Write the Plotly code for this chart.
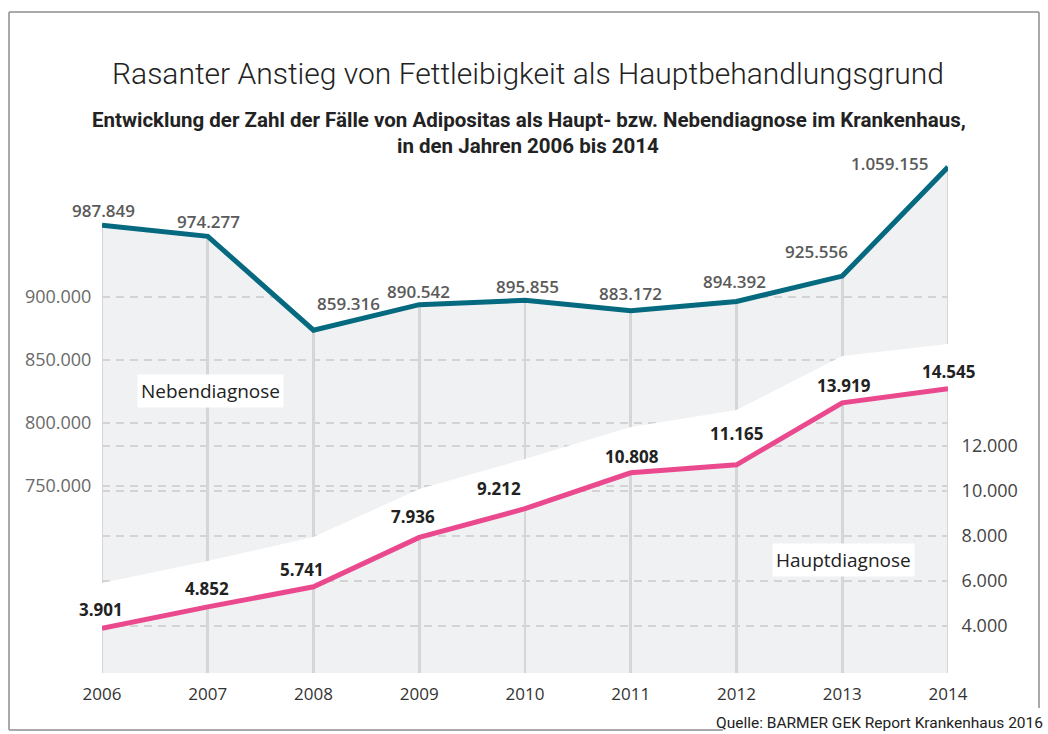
import plotly.graph_objects as go

# ---------------- data ----------------
years = [2006, 2007, 2008, 2009, 2010, 2011, 2012, 2013, 2014]
neben = [987849, 974277, 859316, 890542, 895855, 883172, 894392, 925556, 1059155]
haupt = [3901, 4852, 5741, 7936, 9212, 10808, 11165, 13919, 14545]
neben_text = ["987.849", "974.277", "859.316", "890.542", "895.855", "883.172", "894.392", "925.556", "1.059.155"]
haupt_text = ["3.901", "4.852", "5.741", "7.936", "9.212", "10.808", "11.165", "13.919", "14.545"]
# upper edge of the white band above the Hauptdiagnose line (right-axis units)
band_edge = [5911, 6889, 7956, 10089, 11422, 12844, 13600, 16000, 16533]

# left axis labels (positions; the original labels are not to scale)
left_tick_text = ["900.000", "850.000", "800.000", "750.000"]
left_tick_pos = [900000, 822800, 745600, 668400]
right_tick_vals = [4000, 6000, 8000, 10000, 12000]
right_tick_text = ["4.000", "6.000", "8.000", "10.000", "12.000"]
year_text = [str(y) for y in years]

# ---------------- styles ----------------
TEAL = "#05697f"
PINK = "#ea4a8d"
GRAY_BG = "#f0f1f3"
GRID = "#d3d3d5"
VGRID = "#d6d6d8"
Y1_RANGE = [439200, 1080100]
Y2_RANGE = [1911, 25156]
FONT = "Open Sans"

# label offsets (pixels) for value labels
neben_shift = [(1, 15), (1, 15), (35, 27), (-1, 13), (2, 14), (0, 17), (-2, 20), (-26, 25), (-59, 4)]
haupt_shift = [(-1, 19), (-1, 18), (-12, 17), (-6, 21), (-26, 20), (1, 16), (0, 31), (2, 17), (0, 17)]

fig = go.Figure()

# white area above the Nebendiagnose line (hides grid above it)
fig.add_trace(go.Scatter(x=years, y=[Y1_RANGE[1]] * len(years), mode="lines",
                         line=dict(width=0, color="white"), hoverinfo="skip", showlegend=False))
fig.add_trace(go.Scatter(x=years, y=neben, mode="lines", fill="tonexty", fillcolor="white",
                         line=dict(width=0, color="white"), hoverinfo="skip", showlegend=False))
# vertical year lines, running from the bottom up to the Nebendiagnose line
fig.add_trace(go.Bar(x=years, y=neben, width=0.028, marker=dict(color=VGRID, line=dict(width=0)),
                     hoverinfo="skip", showlegend=False))
# Nebendiagnose line
fig.add_trace(go.Scatter(x=years, y=neben, mode="lines", name="Nebendiagnose",
                         line=dict(color=TEAL, width=5), showlegend=False))

# white band above the Hauptdiagnose line
fig.add_trace(go.Scatter(x=years, y=band_edge, yaxis="y2", mode="lines",
                         line=dict(width=0, color="white"), hoverinfo="skip", showlegend=False))
fig.add_trace(go.Scatter(x=years, y=haupt, yaxis="y2", mode="lines", fill="tonexty",
                         fillcolor="white", line=dict(width=0, color="white"),
                         hoverinfo="skip", showlegend=False))
# Hauptdiagnose line
fig.add_trace(go.Scatter(x=years, y=haupt, yaxis="y2", mode="lines", name="Hauptdiagnose",
                         line=dict(color=PINK, width=5), showlegend=False))

annotations = []
for x, y, t, (dx, dy) in zip(years, neben, neben_text, neben_shift):
    annotations.append(dict(x=x, y=y, xref="x", yref="y", text=t, showarrow=False,
                            xshift=dx, yshift=dy, xanchor="center", yanchor="middle",
                            font=dict(family=FONT, size=17, color="#5a5a5a", weight=600)))
for x, y, t, (dx, dy) in zip(years, haupt, haupt_text, haupt_shift):
    annotations.append(dict(x=x, y=y, xref="x", yref="y2", text=t, showarrow=False,
                            xshift=dx, yshift=dy, xanchor="center", yanchor="middle",
                            font=dict(family=FONT, size=17, color="#222222", weight=700)))

W_PLOT, H_PLOT, L, T = 846, 523, 102, 150


def px(xp):
    return (xp - L) / W_PLOT


def py(yp):
    return (T + H_PLOT - yp) / H_PLOT


def note(xp, yp, text, font, xanchor="center", **kw):
    return dict(x=px(xp), y=py(yp), xref="paper", yref="paper", showarrow=False,
                xanchor=xanchor, yanchor="middle", text=text, font=font, **kw)


annotations += [
    note(528, 74, "Rasanter Anstieg von Fettleibigkeit als Hauptbehandlungsgrund",
         dict(family="Roboto", size=30, color="#222222", weight=300)),
    note(529, 120, "Entwicklung der Zahl der Fälle von Adipositas als Haupt- bzw. Nebendiagnose im Krankenhaus,",
         dict(family="Roboto", size=20.5, color="#222222", weight=700)),
    note(528, 146, "in den Jahren 2006 bis 2014",
         dict(family="Roboto", size=20.5, color="#222222", weight=700)),
    note(210, 391, "Nebendiagnose", dict(family=FONT, size=19, color="#222222"),
         bgcolor="white", borderpad=3),
    note(843, 560, "Hauptdiagnose", dict(family=FONT, size=19, color="#222222"),
         bgcolor="white", borderpad=3),
    note(1045, 723, "Quelle: BARMER GEK Report Krankenhaus 2016",
         dict(family="Roboto", size=15.5, color="#222222"), xanchor="right"),
]

BORDER = "#a9a9a9"
shapes = [
    dict(type="line", xref="paper", yref="paper", x0=px(9), x1=px(1039), y0=py(12), y1=py(12),
         line=dict(color=BORDER, width=2)),
    dict(type="line", xref="paper", yref="paper", x0=px(9), x1=px(9), y0=py(12), y1=py(730),
         line=dict(color=BORDER, width=2)),
    dict(type="line", xref="paper", yref="paper", x0=px(9), x1=px(723), y0=py(730), y1=py(730),
         line=dict(color=BORDER, width=2)),
    dict(type="line", xref="paper", yref="paper", x0=px(1039), x1=px(1039), y0=py(12), y1=py(708),
         line=dict(color=BORDER, width=2)),
]

fig.update_layout(
    width=1048, height=734,
    margin=dict(l=L, r=1048 - L - W_PLOT, t=T, b=734 - T - H_PLOT, autoexpand=False),
    paper_bgcolor="white", plot_bgcolor=GRAY_BG,
    showlegend=False, bargap=0,
    annotations=annotations, shapes=shapes,
    xaxis=dict(range=[2006, 2014], tickvals=years, ticktext=year_text,
               showgrid=False, zeroline=False,
               showline=False, ticks="outside", ticklen=6, tickcolor="rgba(0,0,0,0)",
               tickfont=dict(family=FONT, size=17, color="#333333")),
    yaxis=dict(range=Y1_RANGE, tickvals=left_tick_pos, ticktext=left_tick_text,
               showgrid=True, gridcolor=GRID, gridwidth=2, griddash="8px,6px",
               zeroline=False, showline=False, ticks="outside", ticklen=6,
               tickcolor="rgba(0,0,0,0)",
               tickfont=dict(family=FONT, size=18, color="#6a6a6a")),
    yaxis2=dict(range=Y2_RANGE, overlaying="y", side="right", tickvals=right_tick_vals,
                ticktext=right_tick_text, showgrid=True, gridcolor=GRID, gridwidth=2,
                griddash="8px,6px", zeroline=False, showline=False, ticks="outside",
                ticklen=9, tickcolor="rgba(0,0,0,0)",
                tickfont=dict(family=FONT, size=18, color="#444444")),
)

fig.write_html("out.html", config={"displayModeBar": False},
               post_script="document.body.style.margin='0';")
